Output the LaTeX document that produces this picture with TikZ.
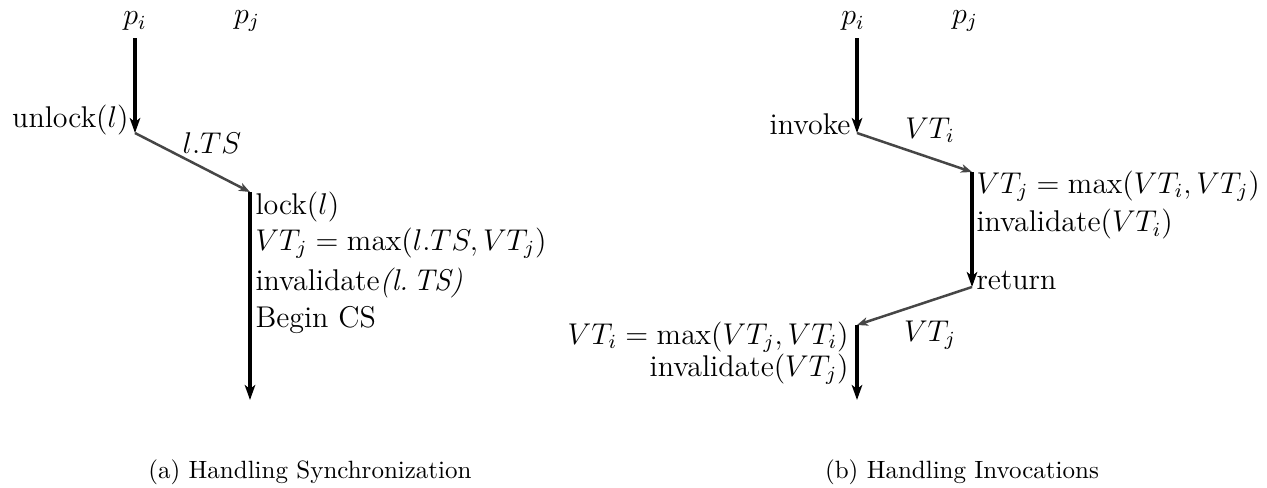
\documentclass[tikz,border=0pt]{standalone}
\usepackage{amsmath, amssymb}
\usepackage{tikz}
\usetikzlibrary{positioning, arrows.meta, calc}
\usepackage{xcolor}
\definecolor{msggray}{RGB}{70,70,70}
\tikzset{
    procline/.style={
        line width=1.6pt,
        black,
        -{Stealth[length=6pt,width=4.2pt,inset=1.6pt]}
    },
    msgline/.style={
        line width=1pt,
        msggray,
        -{Stealth[length=4.4pt,width=3.4pt,inset=1.2pt]}
    },
    txt/.style={
        inner sep=0pt,
        font=\fontsize{12}{14}\selectfont
    },
    captxt/.style={
        inner sep=0pt,
        font=\fontsize{10}{12}\selectfont
    }
}

\begin{document}
\begin{tikzpicture}[x=0.4pt,y=-0.4pt]
  \useasboundingbox (0,0) rectangle (1267,487);

  % (a) synchronization
  \node[txt] (pia) at (135,21) {$p_i$};
  \node[txt] (pja) at (247,21) {$p_j$};
  \coordinate (sa) at (135,38);
  \coordinate (ua) at (135,133);
  \coordinate (la) at (250,192);
  \coordinate (ea) at (250,400);

  \draw[procline] (sa) -- (ua);
  \draw[msgline] (ua) -- (la);
  \draw[procline] (la) -- (ea);

  \node[txt,anchor=east] (unlock) at (129,120) {unlock$(l)$};
  \node[txt] (lts) at (212,143) {$l.TS$};

  \foreach \n/\y/\t in {
      lock/207/{lock$(l)$},
      maxa/243/{$VT_j = \max(l.TS, VT_j)$},
      inva/283/{invalidate\textit{(l.\,TS)}},
      bcs/320/{Begin CS}}
    {
      \node[txt,anchor=west] (\n) at (255,\y) {\t};
    }

  \node[captxt] (capa) at (310,472) {(a) Handling Synchronization};

  % (b) invocations
  \node[txt] (pib) at (853,21) {$p_i$};
  \node[txt] (pjb) at (965,21) {$p_j$};
  \coordinate (sb) at (857,38);
  \coordinate (ib) at (857,133);
  \coordinate (rb) at (972,172);
  \coordinate (tb) at (972,287);
  \coordinate (bb) at (857,325);
  \coordinate (eb) at (857,400);

  \draw[procline] (sb) -- (ib);
  \draw[msgline] (ib) -- (rb);
  \draw[procline] (rb) -- (tb);
  \draw[msgline] (tb) -- (bb);
  \draw[procline] (bb) -- (eb);

  \node[txt,anchor=east] (invoke) at (851,124) {invoke};
  \node[txt] (vti) at (930,130) {$VT_i$};
  \node[txt,anchor=west] (maxb) at (976,186) {$VT_j = \max(VT_i, VT_j)$};
  \node[txt,anchor=west] (invb) at (976,224) {invalidate$(VT_i)$};
  \node[txt,anchor=west] (ret) at (976,280) {return};
  \node[txt] (vtj) at (930,335) {$VT_j$};
  \node[txt,anchor=east] (maxc) at (849,337) {$VT_i = \max(VT_j, VT_i)$};
  \node[txt,anchor=east] (invc) at (849,369) {invalidate$(VT_j)$};

  \node[captxt] (capb) at (962,472) {(b) Handling Invocations};

\end{tikzpicture}
\end{document}
